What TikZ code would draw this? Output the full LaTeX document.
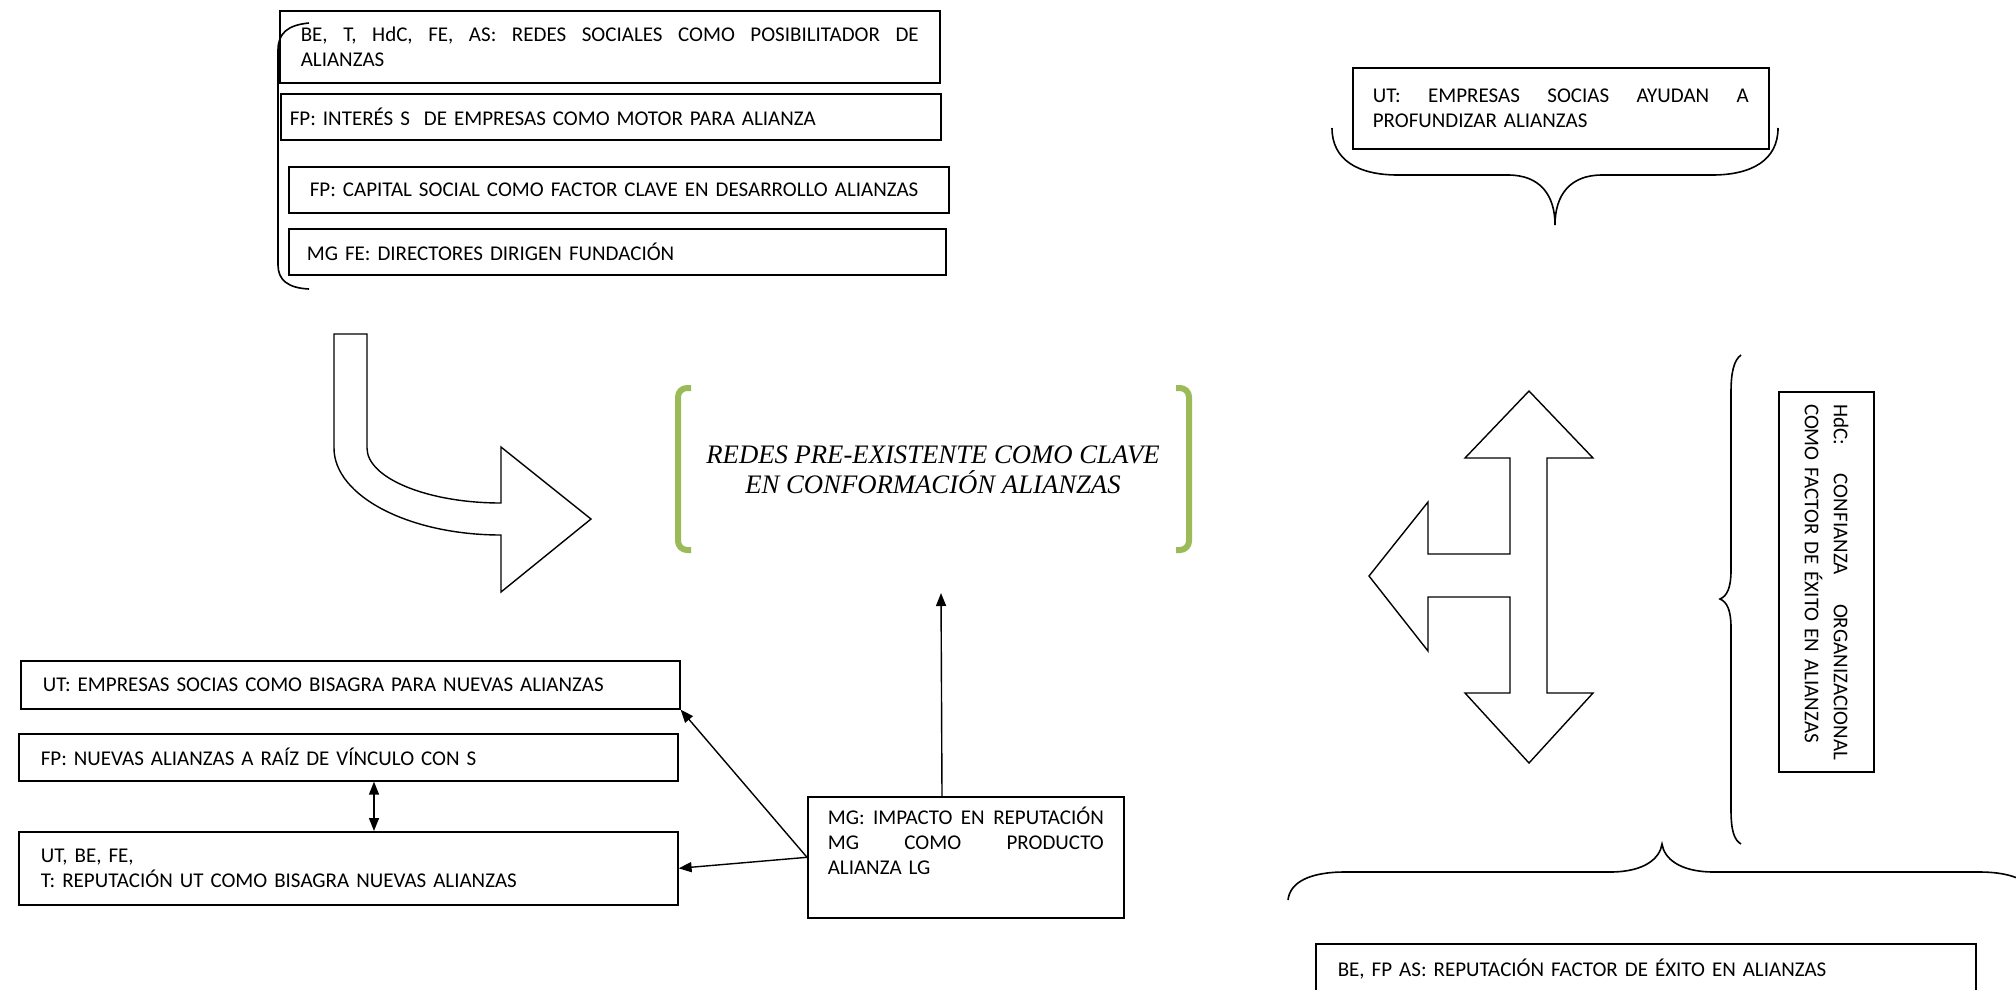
\documentclass[tikz,border=0pt]{standalone}
\usepackage{fontspec}
\setmainfont{Carlito}
\newfontfamily\captionserif{Liberation Serif}
\usetikzlibrary{arrows.meta}
\definecolor{leafgreen}{HTML}{9BBB59}
\begin{document}
\begin{tikzpicture}[x=1pt,y=-1pt,
  box/.style={draw, line width=1.6pt, rectangle, anchor=north west, inner ysep=0pt,
    font=\fontsize{21}{25}\selectfont, align=left},
  outline/.style={draw, line width=1.4pt, line join=miter, fill=white},
  brace/.style={draw, line width=1.6pt},
  leaf/.style={draw=leafgreen, line width=6pt, rounded corners=9pt},
  link/.style={line width=1.4pt, -{Triangle[length=13pt,width=10pt]}},
  twoway/.style={line width=1.4pt, {Triangle[length=13pt,width=10pt]}-{Triangle[length=13pt,width=10pt]}},
]
\clip (0,0) rectangle (2016,989);
\fill[white] (0,0) rectangle (2016,989);

% upper left stack of statements
\node[box, inner xsep=21pt, text width=618pt, minimum height=72pt] (redes) at (279,10)
  {\makebox[618pt]{BE,\hfill T,\hfill HdC,\hfill FE,\hfill AS:\hfill REDES\hfill SOCIALES\hfill COMO\hfill POSIBILITADOR\hfill DE}\\ALIANZAS};
\node[box, inner xsep=9pt, text width=642pt, minimum height=46pt] (interes) at (280,93)
  {FP: INTERÉS S\ \ DE EMPRESAS COMO MOTOR PARA ALIANZA};
\node[box, inner xsep=21pt, text width=618pt, minimum height=46pt] (capital) at (288,166)
  {FP: CAPITAL SOCIAL COMO FACTOR CLAVE EN DESARROLLO ALIANZAS};
\node[box, inner xsep=18pt, text width=621pt, minimum height=46pt] (directores) at (288,228)
  {MG FE: DIRECTORES DIRIGEN FUNDACIÓN};
\draw[brace] (309,23) .. controls (288,25) and (278,33) .. (278,50) -- (278,265)
  .. controls (278,280) and (288,288) .. (309,289);

% upper right statement and its brace
\node[box, inner xsep=20pt, text width=376pt, minimum height=81pt] (socias) at (1352,67)
  {\makebox[376pt]{UT:\hfill EMPRESAS\hfill SOCIAS\hfill AYUDAN\hfill A}\\PROFUNDIZAR ALIANZAS};
\draw[brace] (1332,128) .. controls (1332,160) and (1358,175) .. (1398,175) -- (1508,175)
  .. controls (1540,175) and (1555,195) .. (1555,225)
  .. controls (1555,195) and (1570,175) .. (1602,175) -- (1712,175)
  .. controls (1752,175) and (1778,160) .. (1778,128);

% central statement between green brackets
\node[font=\captionserif\itshape\fontsize{26.7}{30}\selectfont, align=center] (core) at (933,470)
  {REDES PRE-EXISTENTE COMO CLAVE\\EN CONFORMACIÓN ALIANZAS};
\draw[leaf] (691,388) -- (678,388) -- (678,550) -- (691,550);
\draw[leaf] (1176,388) -- (1189,388) -- (1189,550) -- (1176,550);
\coordinate (coretip) at (941,593);

% bent block arrow
\draw[outline] (334,334) -- (367,334) -- (367,448)
  .. controls (367,478) and (427,503) .. (501,503) -- (501,447) -- (591,519)
  -- (501,592) -- (501,535)
  .. controls (409,535) and (334,496) .. (334,448) -- cycle;

% lower left statements
\node[box, inner xsep=22pt, text width=615pt, minimum height=48pt] (bisagra) at (20,660)
  {UT: EMPRESAS SOCIAS COMO BISAGRA PARA NUEVAS ALIANZAS};
\node[box, inner xsep=22pt, text width=615pt, minimum height=47pt] (vinculo) at (18,733)
  {FP: NUEVAS ALIANZAS A RAÍZ DE VÍNCULO CON S};
\node[box, inner xsep=22pt, text width=615pt, minimum height=73pt] (reput) at (18,831)
  {UT, BE, FE,\\T: REPUTACIÓN UT COMO BISAGRA NUEVAS ALIANZAS};
\node[box, inner xsep=20pt, text width=276pt, minimum height=121pt] (impacto) at (807,796)
  {\makebox[276pt]{MG:\hfill IMPACTO\hfill EN\hfill REPUTACIÓN}\\\makebox[276pt]{MG\hfill COMO\hfill PRODUCTO}\\ALIANZA LG\\\strut};

\draw[twoway] ([xshift=356pt]vinculo.south west) -- ([xshift=356pt]reput.north west);
\draw[link] (impacto.west) -- (bisagra.south east);
\draw[link] (impacto.west) -- (reput.east);
\draw[link] ([xshift=135pt]impacto.north west) -- (coretip);

% three-way block arrow
\draw[outline] (1529,391) -- (1593,458) -- (1547,458) -- (1547,693) -- (1593,693)
  -- (1529,763) -- (1465,693) -- (1510,693) -- (1510,597) -- (1428,597) -- (1428,651)
  -- (1369,576) -- (1428,502) -- (1428,554) -- (1510,554) -- (1510,458) -- (1465,458) -- cycle;

% right vertical statement and its brace
\node[box, anchor=center, rotate=-90, inner xsep=12pt, text width=356pt,
  minimum width=380pt, minimum height=95pt, font=\fontsize{21}{29}\selectfont] (confianza) at (1826.5,582)
  {\makebox[356pt]{HdC:\hfill CONFIANZA\hfill ORGANIZACIONAL}\\COMO FACTOR DE ÉXITO EN ALIANZAS};
\draw[brace] (1741,355) .. controls (1734,360) and (1731,372) .. (1731,392) -- (1731,570)
  .. controls (1731,588) and (1727,596) .. (1720,599)
  .. controls (1727,602) and (1731,610) .. (1731,628) -- (1731,810)
  .. controls (1731,830) and (1734,840) .. (1741,844);

% bottom right statement and its brace
\draw[brace] (1288,900) .. controls (1290,882) and (1310,872) .. (1345,872) -- (1610,872)
  .. controls (1645,872) and (1660,858) .. (1662,844)
  .. controls (1664,858) and (1679,872) .. (1714,872) -- (1979,872)
  .. controls (2014,872) and (2034,882) .. (2036,900);
\node[box, inner xsep=22pt, text width=616pt, minimum height=50pt] (exito) at (1315,943)
  {BE, FP AS: REPUTACIÓN FACTOR DE ÉXITO EN ALIANZAS};
\end{tikzpicture}
\end{document}
